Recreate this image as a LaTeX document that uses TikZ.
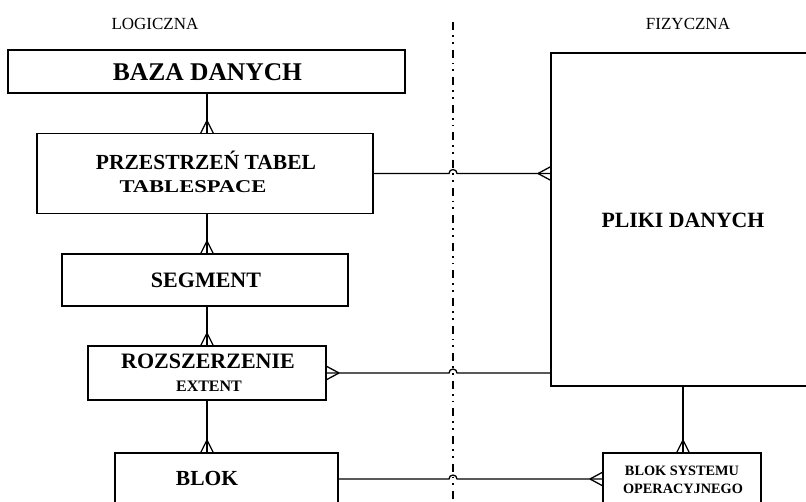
\documentclass[tikz,border=0pt]{standalone}
\usepackage{fontspec}
\setmainfont{Liberation Serif}
\usetikzlibrary{calc}

% font helpers
\newcommand\fs[1]{\fontsize{#1}{#1}\selectfont}

% crow's foot on a vertical connector, opening downwards onto point #1
\newcommand\footdown[1]{%
  \draw[conn] ($(#1)+(0,-13)$) -- ++(-6.5,13) ($(#1)+(0,-13)$) -- ++(6.5,13);}
% crow's foot on a horizontal connector, opening to the right onto point #1
\newcommand\footright[1]{%
  \draw[conn] ($(#1)+(-13,0)$) -- ++(13,-7) ($(#1)+(-13,0)$) -- ++(13,7);}
% crow's foot on a horizontal connector, opening to the left onto point #1
\newcommand\footleft[1]{%
  \draw[conn] ($(#1)+(13,0)$) -- ++(-13,-7) ($(#1)+(13,0)$) -- ++(-13,7);}

\begin{document}
\begin{tikzpicture}[x=1pt,y=-1pt,
  box/.style={draw,line width=1.4pt,inner sep=0pt,outer sep=0pt},
  conn/.style={line width=1.3pt},
  lbl/.style={inner sep=0pt,font=\bfseries},
  head/.style={inner sep=0pt,font=\fs{17}},
  divider/.style={line width=1.8pt,dash pattern=on 8pt off 5pt on 1.8pt off 5pt on 1.8pt off 6pt}]

\useasboundingbox (0,0) rectangle (806,502);
\clip (0,0) rectangle (806,502);

% column headings
\node[head] (hlog) at (155,24) {LOGICZNA};
\node[head] (hfiz) at (688,24) {FIZYCZNA};

% separator between the logical and physical side
\coordinate (divtop) at (453,22);
\coordinate (divbot) at (453,502);
\draw[divider] (divtop) -- (divbot);

% logical structures
\node[box,minimum width=397pt,minimum height=43pt] (baza) at (206.5,71.5) {};
\node[lbl,font=\bfseries\fs{25.5}] (bazat) at (207.5,72) {BAZA DANYCH};

\node[box,minimum width=336pt,minimum height=80pt] (prz) at (205,173.5) {};
\node[lbl,font=\bfseries\fs{21.5}] (przt1) at (206,160) {PRZESTRZEŃ TABEL};
\node[lbl,font=\bfseries\fs{18}] (przt2) at (193,187) {\scalebox{1.25}[1]{TABLESPACE}};

\node[box,minimum width=286pt,minimum height=52pt] (seg) at (205,280) {};
\node[lbl,font=\bfseries\fs{22}] (segt) at (206,280) {SEGMENT};

\node[box,minimum width=238pt,minimum height=54pt] (roz) at (207,373) {};
\node[lbl,font=\bfseries\fs{22}] (rozt1) at (208,361) {ROZSZERZENIE};
\node[lbl,font=\bfseries\fs{16}] (rozt2) at (209,386) {EXTENT};

\node[box,minimum width=223pt,minimum height=52pt] (blok) at (226.5,479) {};
\node[lbl,font=\bfseries\fs{21.5}] (blokt) at (207,478) {BLOK};

% physical structures
\node[box,minimum width=264pt,minimum height=333pt] (pliki) at (683,219.5) {};
\node[lbl,font=\bfseries\fs{21.8}] (plikit) at (683,220) {PLIKI DANYCH};

\node[box,minimum width=158pt,minimum height=52pt] (bso) at (682,479) {};
\node[lbl,font=\bfseries\fs{14.3}] (bsot1) at (682,470.5) {BLOK SYSTEMU};
\node[lbl,font=\bfseries\fs{14.3}] (bsot2) at (683,488.5) {OPERACYJNEGO};

% vertical one-to-many links on the logical side
\coordinate (spine) at (207,0);
\draw[conn] (baza.south -| spine) -- (prz.north -| spine);
\footdown{prz.north -| spine}
\draw[conn] (prz.south -| spine) -- (seg.north -| spine);
\footdown{seg.north -| spine}
\draw[conn] (seg.south -| spine) -- (roz.north -| spine);
\footdown{roz.north -| spine}
\draw[conn] (roz.south -| spine) -- (blok.north -| spine);
\footdown{blok.north -| spine}

% data files to operating system blocks
\coordinate (pspine) at (683,0);
\draw[conn] (pliki.south -| pspine) -- (bso.north -| pspine);
\footdown{bso.north -| pspine}

% links across the separator, hopping over it
\draw[conn] (prz.east) -- ($(prz.east -| divtop)+(-4,0)$)
  arc[start angle=180,end angle=360,radius=4] -- (pliki.west |- prz.east);
\footright{pliki.west |- prz.east}

\draw[conn] (roz.east) -- ($(roz.east -| divtop)+(-4,0)$)
  arc[start angle=180,end angle=360,radius=4] -- (pliki.west |- roz.east);
\footleft{roz.east}

\draw[conn] (blok.east) -- ($(blok.east -| divtop)+(-4,0)$)
  arc[start angle=180,end angle=360,radius=4] -- (bso.west);
\footright{bso.west}
\end{tikzpicture}
\end{document}
